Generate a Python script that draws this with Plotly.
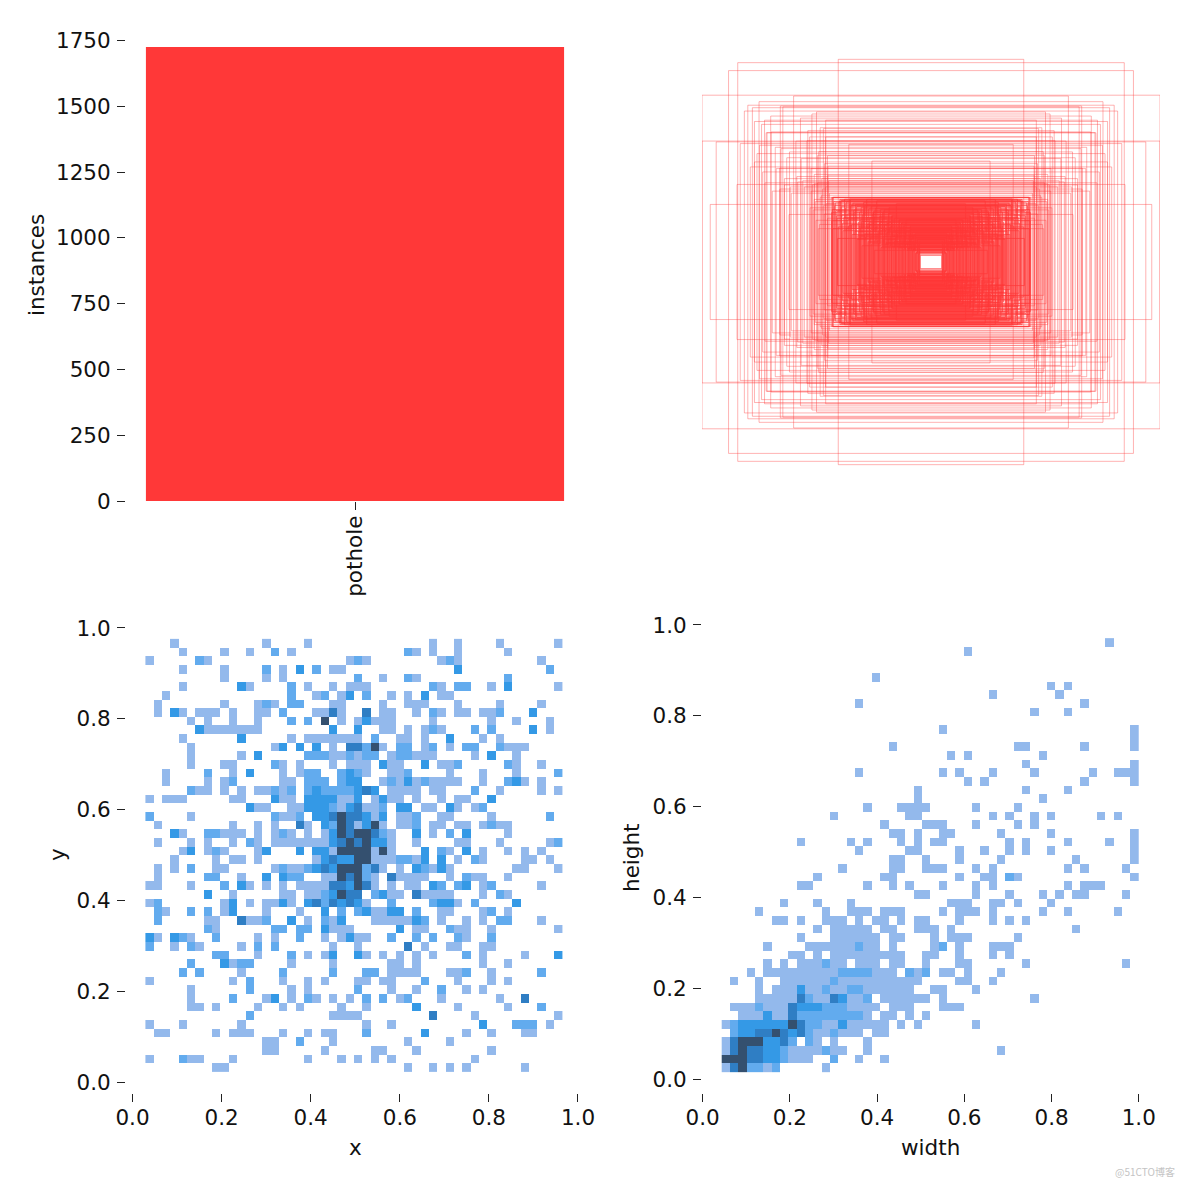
import plotly.graph_objects as go

classes = ['pothole']
instances = [1725]
instance_ticks = [0, 250, 500, 750, 1000, 1250, 1500, 1750]
unit_ticks = [0.0, 0.2, 0.4, 0.6, 0.8, 1.0]

# box sizes (fraction of image)
box_w = [1.0, .844, .884, .405, .6, .751, .658, .964, .847, .62, .789, .484, .716, .771, 1.0, .938, .833, .359, .258, .542,
         .8, .815, .647, .727, .698, .749, .655, .618, .771, .676, .567, .524, .582, .64, .735, .495, .465, .451, .553, .509,
         .436, .431, .424, .433, .418, .412, .427, .405, .398, .41, .392, .387, .395, .381, .376, .384, .37, .366, .373, .36,
         .355, .363, .349, .344, .352, .338, .333, .341, .327, .322, .33, .316, .312, .319, .305, .3, .308, .294, .289, .297,
         .283, .279, .286, .272, .268, .275, .261, .256, .264, .25, .246, .253, .24, .235, .243, .229, .224, .232, .218, .213,
         .221, .207, .203, .21, .196, .192, .199, .186, .181, .189, .175, .17, .178, .164, .16, .167, .153, .149, .156, .143,
         .138, .146, .132, .127, .135, .121, .117, .124, .111, .106, .114, .1, .096, .103, .09, .085, .093, .079, .075, .082,
         .069, .065, .072, .06, .056, .063, .052, .049, .047,
         .434, .421, .429, .415, .402, .39, .408, .378, .368, .357, .347, .336, .325, .314, .303, .292, .281, .27, .259, .248,
         .237, .226, .215, .204, .193, .183, .172, .162, .151, .141, .13, .119, .109, .098, .088, .077, .067, .058, .05, .054,
         .43, .41, .39, .37, .35, .331, .31, .29, .27, .25, .23, .21, .19, .172, .155, .14, .125, .112, .095, .08,
         .68, .72, .51, .47, .63, .59, .56, .78, .53, .66, .74, .49, .61, .7, .45, .57, .64, .46, .52, .76,
         .477, .615, .693, .538, .452, .586, .661, .46, .5, .725,
         .055, .062, .068, .073, .08, .086, .091, .097, .102, .108, .113, .118, .123, .129, .134, .139, .144, .15, .155, .16,
         .166, .171, .176, .182, .187, .192, .198, .203, .208, .214, .219, .224, .23, .235, .241, .246, .252, .257, .263, .268,
         .274, .279, .285, .29, .296, .301, .307, .312, .318, .323,
         .443, .452, .461, .47, .478, .487, .496, .505, .514, .523, .447, .466, .484, .502, .518, .458, .474, .492, .51, .528]
box_h = [.8, .956, .918, .972, .796, .769, .748, .276, .372, .228, .456, .644, .62, .674, .58, .576, .568, .564, .484, .582,
         .752, .724, .744, .68, .624, .56, .544, .528, .48, .448, .496, .448, .384, .4, .432, .512, .472, .416, .36, .376,
         .308, .252, .291, .198, .284, .222, .31, .168, .3, .243, .265, .186, .294, .213, .278, .15, .288, .231, .259, .174,
         .303, .204, .27, .132, .298, .249, .147, .282, .216, .126, .276, .192, .24, .111, .262, .225, .165, .286, .138, .234,
         .272, .18, .12, .255, .21, .099, .268, .228, .156, .245, .105, .237, .195, .141, .258, .091, .219, .177, .085, .207,
         .252, .109, .183, .24, .093, .2, .154, .233, .08, .189, .123, .221, .171, .074, .21, .143, .097, .162, .118, .069,
         .203, .135, .086, .19, .16, .062, .175, .114, .148, .055, .13, .096, .153, .107, .172, .117, .129, .06, .103, .142,
         .136, .045, .092, .11, .08, .052, .088, .06, .032,
         .238, .27, .16, .247, .29, .226, .113, .301, .21, .275, .18, .238, .266, .125, .195, .258, .3, .176, .087, .219,
         .293, .161, .074, .25, .144, .26, .2, .127, .279, .09, .185, .18, .201, .068, .156, .129, .118, .108, .101, .046,
         .31, .21, .296, .162, .27, .255, .12, .272, .19, .24, .15, .235, .09, .222, .15, .2, .068, .166, .125, .075,
         .55, .62, .42, .64, .5, .58, .39, .74, .6, .35, .66, .53, .33, .7, .46, .69, .37, .6, .71, .52,
         .4, .36, .34, .63, .51, .41, .45, .68, .72, .38,
         .038, .05, .042, .067, .054, .079, .058, .071, .091, .063, .083, .112, .095, .076, .127, .104, .088, .14, .116, .099,
         .152, .073, .128, .165, .11, .143, .087, .177, .124, .155, .069, .189, .137, .101, .168, .056, .202, .149, .119, .181,
         .093, .214, .161, .132, .194, .078, .205, .172, .145, .11,
         .33, .21, .36, .27, .32, .18, .38, .29, .25, .34, .39, .23, .31, .2, .37, .28, .35, .16, .3, .26]

# xy histogram: one entry per row (top to bottom), columns listed per count level 1..5
xy_rows = [
    [[3, 14, 19, 34, 37, 42, 49]],
    [[4, 9, 12, 17, 32, 34, 37, 43], [15, 31]],
    [[0, 7, 24, 26, 35, 37, 47], [6, 25, 36]],
    [[4, 9, 16, 22, 23], [14, 20, 48], [18, 37]],
    [[9, 14, 16, 28, 32], [25, 31, 43]],
    [[4, 12, 19, 22, 24, 25, 26, 35, 41, 49], [17, 34, 37, 38], [11, 43]],
    [[2, 20, 23, 29, 31, 35, 36], [17, 21, 26], [24, 33]],
    [[1, 9, 13, 15, 22, 23, 28, 31, 32, 33, 37, 42, 47], [14, 17, 18]],
    [[1, 4, 6, 7, 8, 10, 13, 14, 20, 21, 23, 28, 29, 32, 35, 37, 38, 40, 41], [16, 34, 42], [3, 46], [22, 26]],
    [[5, 7, 10, 13, 23, 25, 27, 28, 29, 34, 41, 44, 48], [17, 19], [26], [], [21]],
    [[7, 8, 9, 10, 11, 12, 13, 28, 29, 31, 33, 35, 48], [34, 39, 41], [6, 22, 25, 46]],
    [[4, 17, 19, 20, 21, 22, 23, 24, 25, 30, 31, 33, 40, 42], [27], [11, 36]],
    [[5, 15, 22, 28, 33, 36, 43, 44, 45], [26, 30, 31, 34, 38, 39, 42], [16, 18, 20], [24, 25], [27]],
    [[5, 11, 22, 23, 25, 29, 32, 33, 34, 39, 44], [19, 20, 21, 24, 26, 27, 30, 31], [13, 41]],
    [[5, 9, 10, 16, 18, 22, 24, 25, 26, 29, 30, 35, 36, 44, 47], [15, 37, 43], [28, 33]],
    [[2, 10, 16, 18, 26, 29, 30, 36, 40, 44], [7, 19, 20, 23, 25, 31, 49], [12, 24]],
    [[2, 7, 9, 16, 17, 28, 30, 32, 34, 35, 36, 37, 40, 45, 47], [10, 19, 20, 21, 23, 29, 33, 43], [24, 25, 31, 44]],
    [[6, 7, 9, 11, 13, 14, 16, 29, 30, 31, 32, 34, 35, 42, 47, 49], [5, 15, 17, 19, 21, 22, 23, 24, 39], [20, 25, 27], [26]],
    [[0, 2, 3, 4, 10, 11, 16, 17, 23, 24, 27, 29, 30, 32, 35, 37, 38], [], [15, 19, 20, 21, 22, 25, 28, 41]],
    [[13, 14, 17, 18, 23, 26, 27, 33, 34, 37, 39], [22, 28, 40], [12, 19, 20, 21, 24, 30, 31, 36], [25]],
    [[5, 16, 17, 27, 30, 31, 35, 36, 41], [0, 15, 18, 32, 48], [20, 21, 26, 28], [22, 24, 25], [23]],
    [[1, 10, 13, 15, 19, 25, 28, 30, 31, 34, 35, 37, 38, 40, 42, 43], [22, 32, 41], [21, 26], [18, 24], [23, 27]],
    [[4, 9, 10, 11, 13, 15, 17, 19, 21, 29, 34, 43], [7, 8, 16, 28, 36], [3, 22, 32, 38], [24, 27], [23, 25, 26]],
    [[1, 5, 7, 10, 13, 15, 16, 17, 18, 19, 20, 21, 29, 32, 37, 38, 42, 48], [12, 49], [22, 27, 28], [23, 25], [24, 26]],
    [[4, 7, 9, 13, 22, 27, 29, 36, 40, 43, 45, 47], [8, 35], [5, 14, 18, 20, 21, 33, 38], [], [23, 24, 25, 26, 28]],
    [[3, 8, 10, 11, 13, 20, 27, 28, 29, 32, 37, 40, 45, 46, 48], [30, 31, 39], [21, 23, 24, 33, 35], [22], [25, 26]],
    [[1, 3, 8, 9, 15, 17, 18, 28, 30, 34, 36, 44, 45, 49], [5, 16, 19, 26, 33], [20, 22, 32, 35], [21, 27], [23, 24, 25]],
    [[1, 11, 21, 22, 27, 30, 31, 32, 33, 36, 39, 40, 43], [7, 8, 17, 18, 26, 38], [14, 16], [24, 29], [23, 25]],
    [[0, 1, 5, 12, 14, 16, 18, 19, 20, 21, 27, 29, 31, 32, 40, 47], [9, 35, 37, 41], [11, 24, 34, 38], [22, 23, 26], [25]],
    [[10, 16, 17, 19, 20, 29, 30, 33, 34, 35, 36, 40, 43], [21, 27, 42], [7, 22, 28], [24, 25, 32], [23]],
    [[0, 9, 12, 14, 15, 17, 26, 37], [1, 21, 29, 34, 39], [10, 16, 19, 23, 25, 35, 36, 44], [20, 22, 24]],
    [[2, 9, 14, 18, 27, 28, 35, 36, 40, 43], [1, 5, 7, 23, 25, 32, 41], [10, 21, 26, 29, 30]],
    [[7, 8, 12, 13, 19, 22, 27, 28, 29, 30, 31, 35, 38, 40, 47], [1, 14, 21, 33, 42, 43], [17, 23, 32], [11]],
    [[8, 22, 23, 24, 32, 33, 37, 38, 41, 49], [7, 15, 16, 18, 19, 36], [21, 30]],
    [[1, 5, 13, 15, 21, 23, 25, 26, 38], [4, 8, 18, 29, 32, 34, 37, 41], [0, 3, 24]],
    [[3, 6, 11, 22, 25, 33, 36, 37, 40, 41], [0, 5, 13, 15], [], [31]],
    [[13, 19, 21, 26, 28, 30, 32, 34, 40, 45], [8, 9, 17, 38], [22, 25, 49]],
    [[10, 17, 22, 29, 30, 32, 40, 43], [5, 11, 12], [9]],
    [[11, 29, 30, 31, 32, 36, 37, 41], [4, 6, 16, 22, 26, 27, 38, 47]],
    [[0, 10, 16, 19, 21, 25, 26, 28, 29, 37, 41, 43], [12, 33]],
    [[5, 17, 19, 29, 32, 38, 40], [12, 25, 35]],
    [[5, 14, 17, 20, 22, 24, 30, 35, 42], [10, 19, 26, 28, 31], [15], [45]],
    [[5, 6, 8, 13, 16, 18, 23, 26, 37, 43], [47], [32]],
    [[22, 23, 24, 25, 39, 49], [12], [], [34]],
    [[0, 4, 11, 26, 29, 48], [44, 45, 46], [40]],
    [[1, 2, 8, 10, 11, 12, 16, 19, 21, 22, 38, 41, 45, 46], [26], [33]],
    [[14, 15, 22, 31, 36], [18]],
    [[14, 15, 21, 27, 28, 32, 41]],
    [[0, 5, 6, 10, 19, 23, 25, 27, 29, 39], [4]],
    [[8, 9, 31, 34, 36, 38, 45]],
]

# width/height histogram, same layout
wh_rows = [
    [[46]],
    [[29]],
    [],
    [],
    [[18]],
    [[39, 41]],
    [[32, 40]],
    [[16, 43]],
    [[37, 41]],
    [],
    [[26, 49]],
    [[49]],
    [[20, 35, 36, 43, 49]],
    [[27, 29, 38]],
    [[36, 49]],
    [[16, 26, 28, 32, 37, 44, 47, 48, 49]],
    [[29, 31, 43, 49]],
    [[23, 36, 41]],
    [[23, 38]],
    [[17, 21, 22, 23, 24, 30, 35]],
    [[13, 22, 23, 32, 34, 37, 39, 45, 47]],
    [[19, 24, 25, 26, 30, 35, 37]],
    [[20, 21, 23, 26, 27, 33, 39, 49]],
    [[9, 15, 17, 21, 23, 25, 26, 34, 36, 41, 46, 49]],
    [[16, 22, 23, 28, 31, 34, 36, 39, 49]],
    [[20, 21, 24, 28, 33, 42, 49]],
    [[14, 20, 21, 24, 25, 26, 30, 32, 41, 43, 48]],
    [[11, 19, 20, 28, 31, 32, 35, 49], [34]],
    [[9, 10, 17, 20, 22, 26, 30, 32, 41, 43, 44, 45]],
    [[23, 24, 30, 34, 38, 40, 42, 43, 48]],
    [[7, 11, 15, 27, 28, 29, 32, 33, 35, 39]],
    [[4, 12, 15, 16, 17, 19, 20, 21, 26, 28, 29, 30, 32, 38, 41, 47]],
    [[6, 7, 9, 12, 13, 14, 16, 18, 19, 21, 23, 24, 28, 32, 34, 36]],
    [[11, 13, 14, 15, 16, 17, 19, 20, 23, 24, 25, 27, 42]],
    [[9, 13, 14, 15, 16, 17, 18, 20, 21, 25, 27, 28, 29, 35]],
    [[5, 10, 11, 12, 13, 14, 15, 17, 18, 20, 25, 28, 32, 33, 34], [16, 26]],
    [[8, 9, 11, 13, 14, 15, 16, 17, 18, 19, 20, 21, 24, 25, 28, 32, 34]],
    [[5, 7, 9, 10, 11, 13, 14, 16, 17, 18, 20, 21, 24, 28, 29, 36, 48], [12]],
    [[3, 5, 6, 7, 8, 9, 10, 11, 12, 13, 18, 19, 20, 23, 26, 27, 29, 33], [14, 15, 16, 17, 22, 24]],
    [[1, 4, 7, 8, 9, 10, 11, 12, 14, 15, 16, 17, 18, 19, 20, 21, 22, 23, 28, 29, 32], [13]],
    [[4, 6, 7, 8, 10, 11, 13, 14, 17, 18, 19, 20, 21, 22, 25, 26, 30], [12, 15, 16], [9]],
    [[4, 5, 6, 7, 8, 11, 12, 15, 16, 19, 20, 21, 22, 23, 24, 26, 37], [10, 17], [14], [9, 13]],
    [[1, 2, 3, 5, 6, 7, 15, 16, 17, 18, 20, 21, 22, 26, 27, 28], [4, 12, 13, 14], [9, 10, 11], [8]],
    [[2, 3, 4, 6, 7, 17, 19, 20, 22, 24], [9, 10, 11, 12, 13, 14, 15, 16], [5], [8]],
    [[0, 12, 13, 15, 16, 17, 18, 19, 21, 23, 30], [1, 10, 11], [2, 3, 4, 5, 6, 7, 14], [9], [8]],
    [[11, 12, 14, 15, 16, 18, 19], [1, 10, 13], [2, 3, 8], [4, 5, 7, 9], [6]],
    [[0, 11, 13, 17], [8, 10], [5, 6], [1, 7], [2, 3, 4]],
    [[0, 8, 9, 10, 11, 13, 14, 17, 33], [7, 12], [5, 6], [1, 3, 4], [2]],
    [[8, 9, 10, 16, 19], [7, 13], [5, 6], [3, 4], [0, 1, 2]],
    [[0, 5, 12], [3, 4, 6], [], [1], [2]],
]

count_colors = ['#93B9EC', '#62ABEE', '#3499E6', '#2F7EC4', '#34506F']
cell_lo_hi = {'xy': (.029, .966, .022, .976), 'wh': (.0436, 1.0, .015, .971)}


def to_grid(rows):
    grid = [[None] * 50 for _ in range(50)]
    for r, levels in enumerate(rows):
        for level, cols in enumerate(levels, start=1):
            for c in cols:
                grid[49 - r][c] = level
    return grid


def hist_trace(rows, key, xa, ya):
    x_lo, x_hi, y_lo, y_hi = cell_lo_hi[key]
    dx = (x_hi - x_lo) / 50
    dy = (y_hi - y_lo) / 50
    scale = [[i / 4, c] for i, c in enumerate(count_colors)]
    return go.Heatmap(z=to_grid(rows), x0=x_lo + dx / 2, dx=dx, y0=y_lo + dy / 2, dy=dy,
                      zmin=1, zmax=5, colorscale=scale, showscale=False,
                      xaxis=xa, yaxis=ya, hoverinfo='skip')


def px_x(a, b):
    return [a / 1184, b / 1184]


def px_y(top, bottom):
    return [1 - bottom / 1184, 1 - top / 1184]


fig = go.Figure()

# instances per class
fig.add_trace(go.Bar(x=classes, y=instances, marker_color='#ff3838', marker_line_width=0,
                     width=.913, xaxis='x', yaxis='y'))

# label boxes, centred; the small ones pile up into the solid middle
for w, h in zip(box_w, box_h):
    alpha = 0.68 if w < .44 and h < .32 else 0.38
    fig.add_trace(go.Scatter(x=[-w / 2, w / 2, w / 2, -w / 2, -w / 2],
                             y=[-h / 2, -h / 2, h / 2, h / 2, -h / 2],
                             mode='lines', line=dict(color=f'rgba(255,56,56,{alpha})', width=1),
                             hoverinfo='skip', xaxis='x2', yaxis='y2'))

fig.add_trace(hist_trace(xy_rows, 'xy', 'x3', 'y3'))
fig.add_trace(hist_trace(wh_rows, 'wh', 'x4', 'y4'))

font = dict(family='DejaVu Sans', size=21.5, color='#111111')
tick_style = dict(ticks='outside', ticklen=8, tickwidth=1, tickcolor='#222222', tickfont=font,
                  showgrid=False, zeroline=False, showline=False)
x_ticks = dict(tick_style, ticklabelstandoff=-3)
y_ticks = dict(tick_style, ticklabelstandoff=2)
unit_text = [f'{v:.1f}' for v in unit_ticks]

fig.update_layout(
    width=1184, height=1184, margin=dict(l=0, r=0, t=0, b=0, autoexpand=False),
    paper_bgcolor='white', plot_bgcolor='white', showlegend=False, font=font,
    xaxis=dict(domain=px_x(126, 584), range=[-.5, .5], type='category', tickangle=-90,
               anchor='y', **x_ticks),
    yaxis=dict(domain=px_y(40.5, 501), range=[0, 1750], tickvals=instance_ticks,
               anchor='x', **y_ticks),
    xaxis2=dict(domain=px_x(702, 1160), range=[-.5, .5], visible=False, anchor='y2'),
    yaxis2=dict(domain=px_y(53.5, 470.5), range=[-.5, .5], visible=False, anchor='x2'),
    xaxis3=dict(domain=px_x(126, 584), range=[-.0146, 1.0135], tickvals=unit_ticks, ticktext=unit_text,
                anchor='y3', **x_ticks),
    yaxis3=dict(domain=px_y(617, 1093), range=[-.0242, 1.0242], tickvals=unit_ticks, ticktext=unit_text,
                anchor='x3', **y_ticks),
    xaxis4=dict(domain=px_x(702, 1160), range=[-.0016, 1.0487], tickvals=unit_ticks, ticktext=unit_text,
                anchor='y4', **x_ticks),
    yaxis4=dict(domain=px_y(617, 1093), range=[-.0308, 1.0176], tickvals=unit_ticks, ticktext=unit_text,
                anchor='x4', **y_ticks),
    annotations=[
        dict(text='instances', x=36 / 1184, y=1 - 265 / 1184, textangle=-90),
        dict(text='y', x=57 / 1184, y=1 - 855 / 1184, textangle=-90),
        dict(text='height', x=631 / 1184, y=1 - 858 / 1184, textangle=-90),
        dict(text='x', x=355 / 1184, y=1 - 1147 / 1184),
        dict(text='width', x=930 / 1184, y=1 - 1147 / 1184),
        dict(text='@51CTO博客', x=1145 / 1184, y=1 - 1171 / 1184,
             font=dict(family='Noto Sans CJK SC', size=10, color='#c4c4c4')),
    ],
)
for a in fig.layout.annotations:
    a.update(xref='paper', yref='paper', showarrow=False, xanchor='center', yanchor='middle')

fig.write_html("out.html", config={'displayModeBar': False},
               post_script="document.body.style.margin='0';")
